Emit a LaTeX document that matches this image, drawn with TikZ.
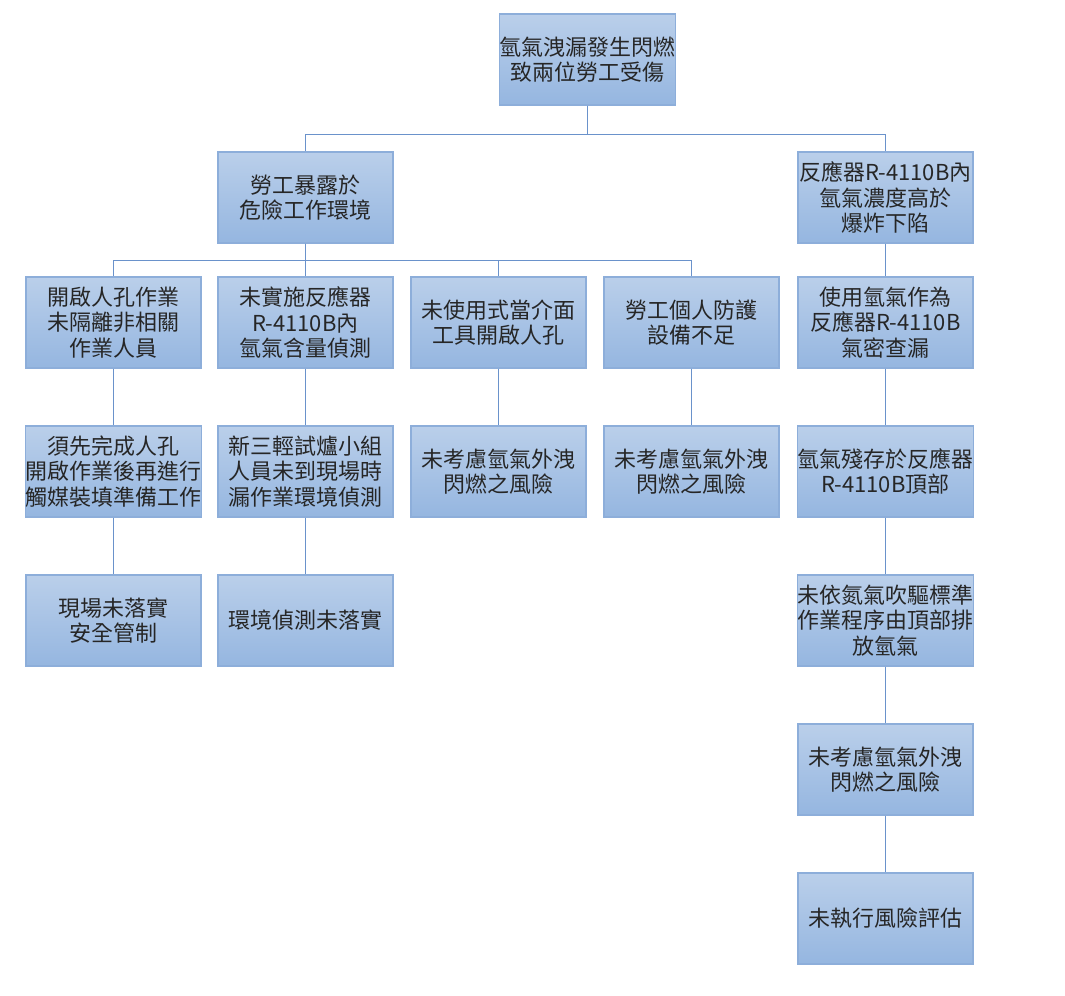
\documentclass[tikz,border=0pt]{standalone}
\usepackage{fontspec}
\setmainfont{Noto Sans CJK TC}
\definecolor{boxtop}{HTML}{BACFEA}
\definecolor{boxbot}{HTML}{95B6E0}
\definecolor{boxline}{HTML}{8DAEDA}
\definecolor{linkline}{HTML}{6A92CB}
\tikzset{
  box/.style={draw=boxline, line width=0.8pt, top color=boxtop, bottom color=boxbot,
    minimum width=3.5cm, minimum height=1.82cm, inner sep=0pt, align=center,
    text=black!85, font=\fontsize{12.5}{14.4}\selectfont},
  link/.style={draw=linkline, line width=0.7pt}
}
\begin{document}
\begin{tikzpicture}[x=0.02cm, y=-0.02cm]
        \useasboundingbox (0,0) rectangle (1065,995);

        \node[box] (top)  at (587.5, 59.5) {氫氣洩漏發生閃燃\\致兩位勞工受傷};
        \node[box] (expo) at (305.5,197.5) {勞工暴露於\\危險工作環境};
        \node[box] (conc) at (885.5,197.5) {反應器R-4110B內\\氫氣濃度高於\\爆炸下陷};

        \node[box] (isol) at (113.5,322.5) {開啟人孔作業\\未隔離非相關\\作業人員};
        \node[box] (meas) at (305.5,322.5) {未實施反應器\\R-4110B內\\氫氣含量偵測};
        \node[box] (tool) at (498.5,322.5) {未使用式當介面\\工具開啟人孔};
        \node[box] (ppe)  at (691.5,322.5) {勞工個人防護\\設備不足};
        \node[box] (leak) at (885.5,322.5) {使用氫氣作為\\反應器R-4110B\\氣密查漏};

        \node[box] (ordr) at (113.5,471.5) {須先完成人孔\\開啟作業後再進行\\觸媒裝填準備工作};
        \node[box] (team) at (305.5,471.5) {新三輕試爐小組\\人員未到現場時\\漏作業環境偵測};
        \node[box] (riskA) at (498.5,471.5) {未考慮氫氣外洩\\閃燃之風險};
        \node[box] (riskB) at (691.5,471.5) {未考慮氫氣外洩\\閃燃之風險};
        \node[box] (rest) at (885.5,471.5) {氫氣殘存於反應器\\R-4110B頂部};

        \node[box] (safe) at (113.5,620.5) {現場未落實\\安全管制};
        \node[box] (envm) at (305.5,620.5) {環境偵測未落實};
        \node[box] (purg) at (885.5,620.5) {未依氮氣吹驅標準\\作業程序由頂部排\\放氫氣};
        \node[box] (riskC) at (885.5,769.5) {未考慮氫氣外洩\\閃燃之風險};
        \node[box] (eval) at (885.5,918.5) {未執行風險評估};

        % tree links
        \draw[link] (top.south) -- +(0,29) -| (expo.north);
        \draw[link] (top.south) -- +(0,29) -| (conc.north);
        \foreach \n in {isol,meas,tool,ppe}
          \draw[link] (expo.south) -- +(0,17) -| (\n.north);
        \draw[link] (conc) -- (leak);
        \draw[link] (isol) -- (ordr);
        \draw[link] (meas) -- (team);
        \draw[link] (tool) -- (riskA);
        \draw[link] (ppe) -- (riskB);
        \draw[link] (leak) -- (rest);
        \draw[link] (ordr) -- (safe);
        \draw[link] (team) -- (envm);
        \draw[link] (rest) -- (purg) -- (riskC) -- (eval);
      \end{tikzpicture}
\end{document}
